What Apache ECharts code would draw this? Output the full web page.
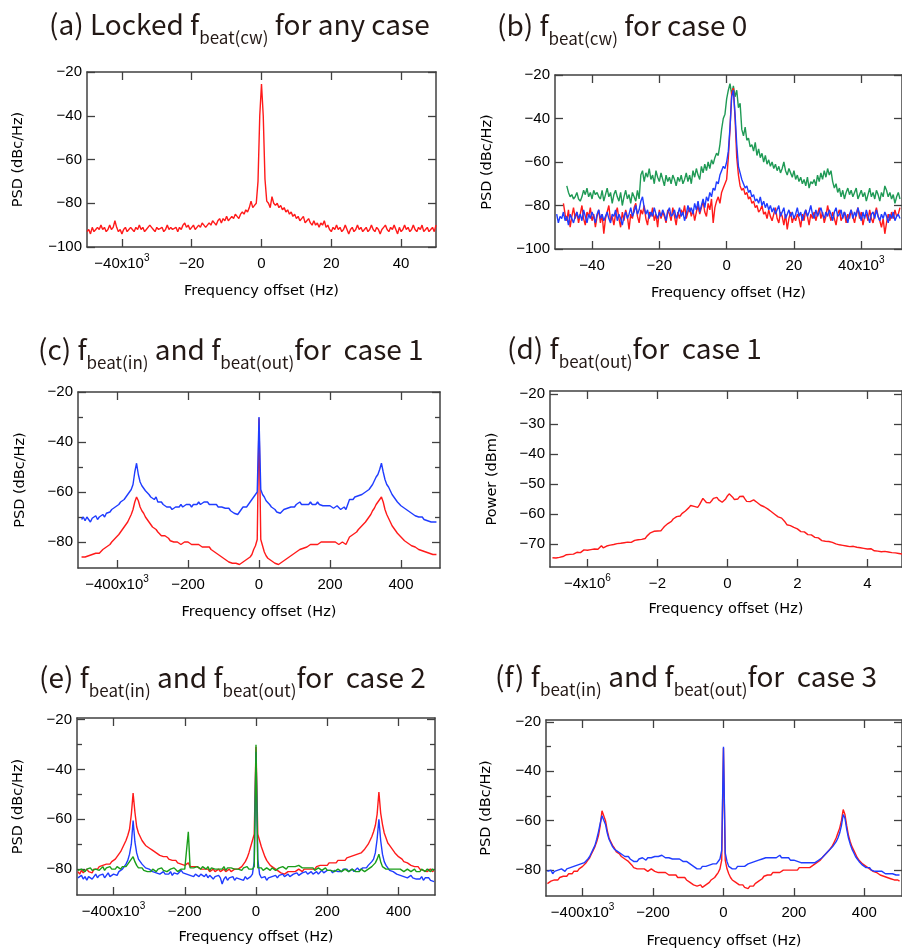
<!DOCTYPE html>
<html>
<head>
<meta charset="utf-8">
<script src="https://cdn.jsdelivr.net/npm/echarts@6/dist/echarts.min.js"></script>
<style>
  html, body { margin: 0; padding: 0; background: #ffffff; }
  #chart { width: 902px; height: 950px; }
</style>
</head>
<body>
<div id="chart"></div>
<script>
// ---------- Spectra (dB values on uniform frequency grids) ----------

// (a) locked f_beat(cw): -50 .. 50 kHz, step 0.5 kHz
const gridA = { start: -50, step: 0.5 };
const psdA = [
  -93,-92,-94,-91,-93,-92,-91,-92,-90,-92,
  -91,-93,-92,-90,-92,-91,-88,-91,-93,-92,
  -94,-92,-91,-93,-92,-91,-92,-93,-91,-92,
  -90,-92,-91,-93,-92,-92,-90,-91,-92,-93,
  -91,-92,-92,-91,-93,-92,-90,-92,-91,-92,
  -92,-91,-93,-91,-92,-90,-89,-91,-90,-92,
  -91,-90,-92,-91,-90,-91,-89,-90,-91,-90,
  -89,-90,-88,-89,-90,-88,-87,-89,-87,-88,
  -86,-88,-87,-86,-87,-85,-86,-87,-85,-84,
  -85,-83,-84,-82,-79,-82,-81,-80,-70,-40,
  -25.5,
  -40,-69,-79,-80,-82,-77,-80,-81,-80,-82,
  -81,-83,-82,-84,-83,-85,-84,-86,-85,-87,
  -86,-88,-87,-86,-89,-88,-87,-89,-90,-88,
  -90,-89,-91,-89,-90,-88,-91,-90,-92,-93,
  -91,-92,-90,-92,-91,-93,-92,-90,-92,-94,
  -92,-91,-93,-92,-90,-92,-91,-93,-92,-91,
  -93,-92,-90,-92,-93,-91,-92,-94,-92,-91,
  -90,-92,-93,-91,-92,-90,-92,-94,-91,-93,
  -92,-90,-92,-91,-93,-92,-90,-92,-93,-91,
  -92,-90,-93,-92,-91,-93,-92,-91,-93,-90
];

// (b) f_beat(cw), case 0: step 0.5 kHz, each trace with its own start
const gridBGreen = { start: -47.5, step: 0.5 };
const psdBGreen = [
  -71,-74,-76,-75,-77,-76,-74,-77,-78,-76,
  -73,-75,-72,-76,-74,-77,-73,-75,-74,-76,
  -77,-73,-78,-75,-72,-76,-74,-79,-75,-73,
  -76,-78,-74,-80,-76,-73,-77,-75,-79,-74,
  -76,-78,-73,-77,-66,-64,-69,-65,-67,-63,
  -68,-66,-70,-64,-67,-69,-65,-68,-71,-66,
  -69,-67,-70,-66,-68,-71,-67,-69,-66,-70,
  -68,-65,-69,-66,-70,-64,-67,-63,-66,-68,
  -62,-65,-61,-64,-60,-63,-59,-61,-58,-56,
  -57,-52,-45,-40,-38,-31,-27,-24,-29,-25,
  -30,-27,-35,-33,-45,-48,-44,-50,-49,-53,
  -52,-55,-51,-57,-54,-58,-56,-60,-57,-61,
  -59,-62,-60,-63,-61,-64,-62,-65,-63,-60,
  -64,-66,-63,-65,-67,-64,-68,-66,-69,-67,
  -70,-68,-71,-67,-72,-69,-70,-68,-71,-66,
  -69,-65,-68,-64,-67,-63,-66,-64,-69,-72,
  -70,-74,-72,-76,-73,-77,-74,-72,-75,-73,
  -76,-74,-72,-77,-75,-73,-76,-74,-78,-75,
  -72,-76,-74,-77,-73,-75,-78,-74,-76,-71,
  -73,-76,-74,-77,-75,-79,-76,-74,-77
];
const gridBRed = { start: -48.5, step: 0.5 };
const psdBRed = [
  -79,-84,-87,-82,-90,-85,-81,-86,-83,-88,
  -84,-80,-86,-89,-83,-85,-81,-87,-84,-90,
  -85,-82,-88,-84,-93,-86,-83,-80,-87,-85,
  -89,-84,-81,-86,-90,-83,-87,-82,-85,-91,
  -84,-86,-81,-79,-85,-88,-82,-84,-80,-86,
  -89,-83,-85,-81,-87,-84,-90,-82,-86,-83,
  -85,-88,-82,-84,-87,-81,-85,-89,-83,-86,
  -82,-84,-80,-86,-83,-81,-85,-82,-87,-83,
  -80,-84,-81,-78,-83,-85,-79,-82,-77,-88,
  -81,-78,-76,-79,-74,-72,-70,-68,-58,-45,
  -28,-26,-40,-58,-66,-71,-73,-72,-75,-74,
  -77,-76,-79,-78,-81,-80,-83,-82,-80,-84,
  -83,-86,-82,-85,-87,-84,-81,-86,-88,-83,
  -85,-89,-84,-91,-86,-83,-88,-85,-87,-84,
  -86,-90,-84,-87,-82,-85,-89,-84,-86,-83,
  -87,-84,-81,-86,-83,-88,-85,-80,-84,-87,
  -83,-86,-89,-84,-82,-87,-85,-83,-88,-84,
  -86,-82,-85,-88,-84,-81,-86,-83,-89,-85,
  -84,-87,-82,-86,-88,-84,-81,-85,-87,-90,
  -86,-93,-88,-84,-87,-83,-86,-82,-85,-84,
  -81
];
const gridBBlue = { start: -50.5, step: 0.5 };
const psdBBlue = [
  -84,-88,-85,-86,-83,-87,-85,-89,-84,-86,
  -88,-85,-83,-86,-84,-87,-82,-85,-88,-84,
  -86,-83,-85,-88,-84,-82,-86,-84,-87,-85,
  -83,-86,-88,-84,-85,-82,-87,-84,-86,-89,
  -85,-83,-86,-84,-81,-85,-83,-80,-84,-82,
  -78,-76,-81,-84,-82,-86,-83,-85,-81,-84,
  -86,-83,-85,-82,-84,-87,-83,-81,-85,-84,
  -82,-86,-84,-81,-85,-83,-87,-84,-80,-83,
  -81,-84,-79,-82,-78,-83,-80,-77,-81,-76,
  -78,-74,-76,-72,-73,-69,-70,-66,-64,-62,
  -63,-60,-55,-44,-30,-27,-38,-52,-62,-65,
  -68,-70,-72,-71,-74,-73,-76,-75,-78,-77,
  -79,-76,-80,-78,-81,-79,-82,-80,-83,-81,
  -84,-82,-80,-85,-83,-81,-86,-84,-82,-85,
  -83,-86,-84,-81,-85,-83,-87,-84,-82,-85,
  -83,-80,-84,-86,-82,-85,-83,-81,-84,-86,
  -83,-85,-82,-84,-87,-83,-81,-85,-84,-82,
  -86,-83,-85,-88,-84,-82,-86,-83,-85,-81,
  -84,-87,-83,-86,-82,-85,-88,-84,-83,-86,
  -82,-85,-87,-84,-86,-83,-85,-88,-84,-86,
  -83,-87,-85,-84,-86
];

// (c) f_beat(in) / f_beat(out), case 1: -500 .. 500 kHz, step 5 kHz
const gridC = { start: -500, step: 5 };
const psdCBlue = [
  -71,-70,-71.5,-70,-71,-72,-70.5,-71,-69.5,-71,
  -70,-70.5,-69,-70,-68.5,-69,-68,-67,-67.5,-66,
  -65.5,-65,-64,-64.5,-63,-62,-61.5,-60,-59,-57,
  -52,-48.5,-53,-56,-57.5,-58,-59.5,-60,-61,-62,
  -62.5,-63,-62,-64,-63.5,-64,-65,-64.5,-66,-65.5,
  -66,-67,-66.5,-66,-65.5,-66,-65,-66,-65.5,-65,
  -65.5,-65,-66,-65,-64.5,-65,-64,-65,-64.5,-64,
  -64.5,-64,-65,-64.5,-65,-65.5,-65,-66,-65.5,-66,
  -66,-66.5,-67,-66.5,-67.5,-68,-68.5,-68,-69,-68,
  -67,-66,-66.5,-66,-65,-64.5,-63,-62,-61.5,-60,
  -30,
  -59,-61,-62,-63.5,-64,-65,-66,-66.5,-67,-68,
  -67.5,-68.5,-68,-67,-67.5,-66.5,-67,-66,-66.5,-66,
  -65,-64.5,-64,-65,-64.5,-65,-64.5,-65,-64,-65,
  -64.5,-65,-64,-65,-64.5,-65.5,-65,-65.5,-66,-65.5,
  -66,-66.5,-66,-65.5,-66,-67,-66.5,-66,-67,-66.5,
  -63,-62.5,-63,-62,-62.5,-61.5,-62,-61,-60.5,-60,
  -59.5,-59,-58,-57,-55.5,-54,-53,-51,-48.5,-52,
  -55,-57,-58,-59.5,-61,-62,-62.5,-64,-64.5,-65.5,
  -66,-66.5,-67,-67.5,-68,-68.5,-69,-69.5,-69,-70,
  -70.5,-70,-71,-70.5,-71.5,-71,-72,-71.5,-72,-72
];
const psdCRed = [
  -86,-86.5,-86,-86.5,-85.5,-86,-85,-85.5,-84.5,-85,
  -84.5,-84,-83,-83.5,-82,-81.5,-81,-80,-79.5,-78.5,
  -78,-77,-76.5,-75,-74,-73,-72,-70.5,-69,-67,
  -64,-62,-63.5,-66,-67.5,-68.5,-70,-71,-72,-73,
  -74,-74.5,-75,-76,-76.5,-77.5,-77,-77.5,-78,-78.5,
  -79.5,-79.5,-80,-80.5,-80,-80.5,-81,-80.5,-80,-80.5,
  -80,-80.5,-81,-80.5,-81,-81.5,-81,-81.5,-82,-81.5,
  -82,-82.5,-82,-83,-83.5,-84,-84.5,-85,-85.5,-86,
  -86.5,-87,-87.5,-88,-88,-88.5,-89,-88.5,-89,-89,
  -88.5,-88,-87.5,-87,-86.5,-86,-85,-83,-81.5,-79,
  -30.5,
  -79,-81.5,-84,-85.5,-86.5,-87,-87.5,-88,-88.5,-88,
  -89,-88.5,-88,-87.5,-87,-86.5,-86,-85.5,-85,-84.5,
  -84,-83.5,-83,-83,-82.5,-82,-82,-81.5,-81,-81.5,
  -81,-80.5,-81,-80.5,-80,-80.5,-80,-80.5,-80,-80.5,
  -80,-80.5,-80,-80.5,-81,-80.5,-80,-80.5,-81,-80.5,
  -78,-77.5,-77,-76.5,-76,-75,-74.5,-73.5,-73,-72,
  -71,-70,-69,-67.5,-66.5,-65,-64,-63,-62,-64,
  -67,-69,-70.5,-72,-73.5,-74.5,-75.5,-76.5,-77,-78,
  -78.5,-79.5,-80,-80.5,-81,-81.5,-82,-82,-82.5,-83,
  -83,-83.5,-83.5,-84,-84,-84.5,-84.5,-85,-85,-85
];

// (d) f_beat(out), case 1: -5 .. 5 MHz, step 0.05 MHz
const gridD = { start: -5, step: 0.05 };
const powerD = [
  -74.6,-74.4,-74.7,-74.3,-74.5,-74.0,-74.2,-73.9,-73.6,-73.8,
  -73.5,-73.2,-73.4,-73.0,-72.8,-72.6,-72.9,-72.3,-72.0,-72.4,
  -72.1,-72.3,-71.9,-72.2,-71.7,-71.4,-71.8,-71.2,-70.6,-71.3,
  -71.0,-70.7,-70.9,-70.4,-70.6,-70.2,-70.5,-69.9,-70.3,-69.8,
  -70.0,-69.6,-69.9,-69.4,-69.1,-69.5,-69.2,-68.8,-69.1,-68.6,
  -68.9,-68.5,-68.7,-68.2,-67.4,-66.8,-66.3,-66.0,-65.8,-65.9,
  -65.7,-65.5,-65.6,-64.9,-64.2,-63.6,-63.2,-62.9,-62.5,-61.7,
  -61.2,-60.9,-60.5,-60.7,-59.9,-59.3,-59.0,-58.6,-57.9,-57.2,
  -56.9,-57.5,-58.1,-57.8,-57.0,-55.9,-54.8,-55.4,-56.2,-56.5,
  -56.3,-55.6,-54.8,-54.2,-54.5,-55.3,-55.9,-56.1,-55.8,-55.0,
  -54.0,-53.3,-53.6,-54.4,-55.2,-55.6,-55.0,-54.2,-53.6,-54.1,
  -55.0,-55.8,-56.1,-55.9,-55.6,-55.3,-55.6,-56.2,-56.8,-57.1,
  -57.3,-57.6,-58.0,-58.3,-58.7,-59.2,-59.6,-60.1,-60.6,-61.0,
  -61.2,-61.4,-61.8,-62.7,-63.6,-63.4,-63.9,-64.2,-64.5,-64.7,
  -65.0,-65.3,-65.9,-66.2,-66.0,-66.5,-66.9,-67.2,-67.0,-67.5,
  -67.8,-68.2,-68.0,-68.6,-68.9,-68.7,-69.1,-69.4,-69.2,-69.6,
  -69.5,-69.8,-70.0,-69.9,-70.3,-70.1,-70.5,-70.4,-70.7,-70.6,
  -70.9,-71.0,-70.8,-71.2,-71.1,-71.4,-71.3,-71.6,-71.5,-71.8,
  -71.7,-72.0,-71.6,-72.1,-72.3,-71.9,-72.4,-72.2,-72.6,-72.3,
  -72.5,-72.8,-72.7,-73.1,-72.9,-73.3,-73.0,-73.4,-73.2,-73.6,
  -73.4
];

// (e) f_beat(in) / f_beat(out), case 2: -500 .. 500 kHz, step 5 kHz
const gridE = { start: -500, step: 5 };
const psdERed = [
  -81,-82,-80.5,-81.5,-82,-80,-81,-80.5,-81.5,-80,
  -79.5,-80,-79,-79.5,-78.5,-79,-78,-77.5,-78,-77,
  -77,-76,-75.5,-74,-73,-71.5,-70,-68.5,-66.5,-64,
  -58,-49.5,-57,-63,-65.5,-67,-68.5,-69.5,-70.5,-71,
  -71.5,-72,-72.5,-73,-73.5,-74,-74.5,-74,-75,-75.5,
  -75,-76,-75.5,-76.5,-77,-76.5,-77.5,-77,-78,-77.5,
  -78.5,-78,-77.5,-79,-78.5,-79,-79.5,-79,-79.5,-80,
  -79.5,-80,-80.5,-80,-81,-80.5,-80,-81,-80.5,-80,
  -81,-80.5,-80,-81,-80.5,-80,-81,-80.5,-80,-80.5,
  -80,-79.5,-79,-78,-77,-75.5,-73.5,-71,-68.5,-66,
  -31,
  -66,-68.5,-71,-73,-75,-76.5,-77.5,-78.5,-79,-79.5,
  -80,-80.5,-81,-81.5,-81,-82,-81.5,-81,-81.5,-81,
  -80.5,-81,-80.5,-80,-80.5,-81,-80,-80.5,-80,-79.5,
  -80,-79.5,-80,-79,-79.5,-78.5,-79,-78.5,-78,-78.5,
  -77.5,-78,-77.5,-77,-77.5,-76.5,-77,-76.5,-76,-76.5,
  -75.5,-76,-75,-75.5,-74.5,-75,-74,-74.5,-73.5,-73,
  -72,-71,-70,-68.5,-67,-65,-62.5,-58,-49,-57.5,
  -62,-65.5,-67.5,-69.5,-70.5,-71.5,-72.5,-73.5,-74,-75,
  -75.5,-76,-77,-76.5,-77.5,-78,-78.5,-78,-79,-79.5,
  -79,-80,-79.5,-80.5,-80,-81,-80.5,-80,-81,-80.5
];
const psdEBlue = [
  -83.5,-84,-82.5,-84,-83,-84.5,-83,-82.5,-84,-83,
  -82,-83.5,-82.5,-83,-82,-83.5,-82.5,-81.5,-83,-82.5,
  -82,-81.5,-82.5,-81,-80.5,-80,-79,-78,-76.5,-74,
  -70,-60.5,-69,-73.5,-76,-77,-78,-78.5,-79.5,-79,
  -80,-80.5,-81,-80.5,-81.5,-81,-82,-81.5,-81,-82,
  -81.5,-82,-81,-82.5,-81.5,-81,-82,-81.5,-80.5,-81.5,
  -81,-82,-81.5,-82.5,-82,-83,-82,-82.5,-83,-82,
  -82.5,-83,-82,-83.5,-82.5,-83,-84,-83,-83.5,-82.5,
  -83.5,-86,-84,-83,-84.5,-83.5,-84,-83,-84.5,-83.5,
  -83,-84,-83.5,-84.5,-83,-84,-83.5,-83,-82,-77,
  -33,
  -76,-82,-83.5,-84,-83,-84.5,-83.5,-84,-83,-83.5,
  -82.5,-83.5,-82.5,-83,-82,-83,-82.5,-82,-83,-82.5,
  -82,-82.5,-81.5,-82.5,-82,-81.5,-82,-81,-82,-81.5,
  -81,-82,-81.5,-81,-82,-81.5,-80.5,-81.5,-81,-80.5,
  -81,-80.5,-81.5,-80.5,-80,-81,-80.5,-81,-80,-80.5,
  -80,-81,-80.5,-80,-81,-80.5,-79.5,-80.5,-80,-79.5,
  -79,-79.5,-78.5,-78,-77,-76,-73.5,-68,-60,-68.5,
  -74,-77,-78.5,-79.5,-80.5,-80,-81,-81.5,-82,-81.5,
  -82.5,-82,-83,-82.5,-83.5,-83,-82.5,-83.5,-83,-84,
  -83.5,-84,-83,-84.5,-83.5,-84,-83.5,-84.5,-84,-85
];
const psdEGreen = [
  -80.5,-81,-80,-79.5,-81,-80,-80.5,-79.5,-80.5,-81,
  -80,-79.5,-80.5,-80,-79,-80.5,-79.5,-80,-79,-80,
  -79.5,-80,-79,-79.5,-80,-79,-78.5,-79,-78,-77.5,
  -76,-75,-77,-78.5,-79.5,-80,-79.5,-80.5,-80,-81,
  -80.5,-81,-80,-80.5,-81,-80,-80.5,-79.5,-80.5,-80,
  -81,-80.5,-80,-80.5,-79.5,-80,-81,-80.5,-80,-79.5,
  -80,-80.5,-65,-79.5,-80,-79.5,-80,-79,-79.5,-80,
  -79,-79.5,-80,-79,-80.5,-79.5,-79,-80,-79.5,-80,
  -79.5,-80,-79,-80.5,-79.5,-80,-79.5,-79,-80,-79.5,
  -80,-79.5,-80.5,-79.5,-80,-79,-80,-79.5,-80,-79,
  -30,
  -79.5,-80,-79.5,-80.5,-80,-79.5,-80,-80.5,-79.5,-80,
  -80.5,-80,-79.5,-80,-79,-79.5,-80,-79,-79.5,-79,
  -78.5,-79,-79.5,-78.5,-79,-79.5,-80,-79.5,-80,-79.5,
  -80,-79.5,-80.5,-80,-79.5,-80,-80.5,-80,-79.5,-80.5,
  -80,-80.5,-80,-81,-80.5,-80,-80.5,-81,-80.5,-80,
  -80.5,-81,-80.5,-80,-80.5,-81,-80.5,-81,-80,-80.5,
  -81,-80.5,-80,-79.5,-79,-78.5,-77.5,-76,-74,-77,
  -79,-79.5,-80,-80.5,-80,-80.5,-80,-79.5,-80,-80.5,
  -80,-80.5,-81,-80.5,-80,-80.5,-81,-80.5,-80,-81,
  -80.5,-81,-80,-80.5,-81,-80,-80.5,-81,-80,-80.5
];

// (f) f_beat(in) / f_beat(out), case 3: -500 .. 500 kHz, step 5 kHz
const gridF = { start: -500, step: 5 };
const psdFRed = [
  -85.5,-85,-84.5,-85,-84,-83.5,-84,-83,-83.5,-82.5,
  -82,-82.5,-81.5,-81,-81.5,-80.5,-80,-80.5,-79.5,-79,
  -78.5,-78,-77,-76,-75,-73.5,-72,-70.5,-68.5,-66,
  -62,-56,-55.5,-60,-64,-67,-68.5,-70,-71,-72.5,
  -73,-73.5,-74.5,-75,-75.5,-76,-76.5,-77,-78,-79,
  -79,-79.5,-80,-79.5,-80,-79.5,-80,-80.5,-80,-79.5,
  -80,-80.5,-80,-81,-80.5,-81,-81.5,-81,-81.5,-82,
  -81.5,-82,-82.5,-82,-83,-82.5,-83,-83.5,-83,-84,
  -84.5,-85,-85.5,-86,-85.5,-86.5,-87,-86,-87,-86.5,
  -86,-85.5,-85,-84,-84.5,-83,-82,-81,-79.5,-76,
  -30.5,
  -76,-79.5,-81.5,-83,-84,-84.5,-85,-85.5,-86,-86.5,
  -86,-87,-86.5,-87.5,-86.5,-86,-86.5,-85.5,-85,-84.5,
  -84,-83.5,-82.5,-83,-82,-81.5,-82,-81,-81.5,-81,
  -80.5,-81,-80.5,-80,-80.5,-80,-79.5,-80,-79.5,-80,
  -79.5,-80,-79,-79.5,-79,-78.5,-79,-78.5,-79,-78.5,
  -78,-77.5,-77,-76.5,-76,-75,-74.5,-73.5,-73,-72,
  -71,-70,-68.5,-67,-65,-63,-60,-55.5,-57.5,-62,
  -66,-68.5,-70.5,-72,-73.5,-75,-76,-76.5,-77.5,-78,
  -78.5,-79,-79.5,-80,-80.5,-81,-81,-81.5,-82,-82,
  -82.5,-82.5,-83,-83,-83.5,-83.5,-84,-83.5,-84,-84.5
];
const psdFBlue = [
  -80.5,-81,-80,-81.5,-80.5,-81,-80,-80.5,-79.5,-80,
  -80.5,-79.5,-80,-79,-79.5,-78.5,-79,-78,-78.5,-77.5,
  -78,-77,-76.5,-75.5,-74.5,-73,-71.5,-70,-67.5,-64.5,
  -61,-58,-57.5,-61.5,-65,-67.5,-69,-70.5,-71.5,-72,
  -72.5,-73,-73.5,-74,-74.5,-75,-74.5,-75.5,-76,-76.5,
  -76,-76.5,-75.5,-76,-75,-75.5,-76,-75,-75.5,-75,
  -75.5,-74.5,-75,-74.5,-75,-74,-74.5,-75,-74.5,-75,
  -74.5,-75.5,-75,-75.5,-76,-75.5,-76,-76.5,-77,-76.5,
  -77,-77.5,-78,-78.5,-79,-79.5,-79,-79.5,-78.5,-79,
  -78.5,-79,-78,-78.5,-77.5,-78,-77.5,-77,-75.5,-72,
  -30,
  -73,-76.5,-78.5,-79,-79.5,-79,-79.5,-78.5,-79,-78.5,
  -78,-78.5,-78,-77.5,-78,-77,-77.5,-76.5,-77,-76,
  -76.5,-75.5,-76,-75,-75.5,-75,-74.5,-75,-74.5,-75,
  -74.5,-74,-75,-74.5,-75,-75.5,-75,-76,-75.5,-76,
  -76,-76.5,-76,-77,-76.5,-77,-76.5,-77,-77.5,-77,
  -77.5,-77,-76.5,-76,-75.5,-75,-74.5,-73.5,-73,-72,
  -71.5,-70.5,-69.5,-68.5,-67,-65,-62,-57.5,-59,-63.5,
  -67,-69.5,-71.5,-73,-74.5,-75.5,-76.5,-77,-78,-78.5,
  -79,-79.5,-79,-80,-79.5,-80.5,-80,-80.5,-81,-80.5,
  -81,-81.5,-81,-81.5,-82,-81.5,-81,-82,-81.5,-82
];

// ---------- Tick values ----------
const ticksXA = [-40, -20, 0, 20, 40];
const ticksXB = [-40, -20, 0, 20, 40];
const ticksXkHz = [-400, -200, 0, 200, 400];
const ticksXD = [-4, -2, 0, 2, 4];
const ticksYAB = [-100, -80, -60, -40, -20];
const ticksYMajor = [-80, -60, -40, -20];
const ticksYMinor = [-70, -50, -30];
const ticksYD = [-70, -60, -50, -40, -30, -20];

// ---------- Styling ----------
const RED = '#ff1a1a';
const BLUE = '#1f3cff';
const GREEN_B = '#1f9a55';
const GREEN_E = '#1a9e1a';
const AXIS_COLOR = '#404040';
const INK = '#000000';
const TITLE_INK = '#231815';
const LABEL_FONT = '"Liberation Sans", Arial, sans-serif';
const NAME_FONT = '"DejaVu Sans", "Liberation Sans", sans-serif';
const TITLE_FONT = '"Noto Sans CJK JP", "Noto Sans", sans-serif';

const panels = [
  {
    title: '{m|(a) Locked f}{s|beat(cw)}{m| for any case}', titlePos: [49, 10],
    box: { left: 87, top: 72, width: 349, height: 175 },
    xRange: [-50, 50], yRange: [-100, -20],
    xTicks: ticksXA, xSci: { at: -40, exp: '3' }, yTicks: ticksYAB, yMinor: [],
    yName: 'PSD (dBc/Hz)', yGap: 61, xGap: 37,
    traces: [{ grid: gridA, values: psdA, color: RED }]
  },
  {
    title: '{m|(b) f}{s|beat(cw)}{m| for case 0}', titlePos: [497, 11],
    box: { left: 555, top: 75, width: 348, height: 174 },
    xRange: [-51, 52.1], yRange: [-100, -20],
    xTicks: ticksXB, xSci: { at: 40, exp: '3' }, yTicks: ticksYAB, yMinor: [],
    yName: 'PSD (dBc/Hz)', yGap: 60, xGap: 37,
    traces: [
      { grid: gridBGreen, values: psdBGreen, color: GREEN_B },
      { grid: gridBRed, values: psdBRed, color: RED },
      { grid: gridBBlue, values: psdBBlue, color: BLUE }
    ]
  },
  {
    title: '{m|(c) f}{s|beat(in)}{m| and f}{s|beat(out)}{m|for  case 1}', titlePos: [38, 335],
    box: { left: 78, top: 392, width: 362, height: 176 },
    xRange: [-510, 510], yRange: [-90.4, -20],
    xTicks: ticksXkHz, xSci: { at: -400, exp: '3' }, yTicks: ticksYMajor, yMinor: ticksYMinor,
    yName: 'PSD (dBc/Hz)', yGap: 50, xGap: 37,
    traces: [
      { grid: gridC, values: psdCRed, color: RED },
      { grid: gridC, values: psdCBlue, color: BLUE }
    ]
  },
  {
    title: '{m|(d) f}{s|beat(out)}{m|for  case 1}', titlePos: [507, 334],
    box: { left: 550, top: 391, width: 357, height: 176 },
    xRange: [-5.07, 4.99], yRange: [-77.7, -19],
    xTicks: ticksXD, xSci: { at: -4, exp: '6' }, yTicks: ticksYD, yMinor: [],
    yName: 'Power (dBm)', yGap: 50, xGap: 35,
    traces: [{ grid: gridD, values: powerD, color: RED }]
  },
  {
    title: '{m|(e) f}{s|beat(in)}{m| and f}{s|beat(out)}{m|for  case 2}', titlePos: [39, 663],
    box: { left: 77, top: 718, width: 358, height: 177 },
    xRange: [-502.5, 502.5], yRange: [-90.4, -19.3],
    xTicks: ticksXkHz, xSci: { at: -400, exp: '3' }, yTicks: ticksYMajor, yMinor: ticksYMinor,
    yName: 'PSD (dBc/Hz)', yGap: 51, xGap: 35,
    traces: [
      { grid: gridE, values: psdERed, color: RED },
      { grid: gridE, values: psdEBlue, color: BLUE },
      { grid: gridE, values: psdEGreen, color: GREEN_E }
    ]
  },
  {
    title: '{m|(f) f}{s|beat(in)}{m| and f}{s|beat(out)}{m|for  case 3}', titlePos: [495, 662],
    box: { left: 546, top: 720, width: 359, height: 177 },
    xRange: [-504, 507], yRange: [-90.5, -19.2],
    xTicks: ticksXkHz, xSci: { at: -400, exp: '3' }, yTicks: ticksYMajor, yMinor: ticksYMinor,
    yName: 'PSD (dBc/Hz)', yGap: 52, xGap: 38,
    traces: [
      { grid: gridF, values: psdFRed, color: RED },
      { grid: gridF, values: psdFBlue, color: BLUE }
    ]
  }
];

// ---------- Option assembly ----------
function signed(v) {
  return v < 0 ? '\u2212' + Math.abs(v) : String(v);
}

const lineStyle = { color: AXIS_COLOR, width: 1.5 };
const tickStyle = { color: AXIS_COLOR, width: 1.3 };
const labelRich = {
  n: { fontSize: 15, fontFamily: LABEL_FONT, color: INK, lineHeight: 18, verticalAlign: 'bottom' },
  e: { fontSize: 10, fontFamily: LABEL_FONT, color: INK, lineHeight: 8, verticalAlign: 'top' }
};
const titleRich = {
  m: { fontSize: 28, fontWeight: 'normal', fontFamily: TITLE_FONT, color: TITLE_INK, verticalAlign: 'top' },
  s: { fontSize: 17, fontWeight: 'normal', fontFamily: TITLE_FONT, color: TITLE_INK, verticalAlign: 'top',
       padding: [19, 0, 0, 0] }
};
const nameStyle = { fontSize: 14.5, fontFamily: NAME_FONT, color: INK };

const option = {
  animation: false,
  backgroundColor: '#ffffff',
  title: [], grid: [], xAxis: [], yAxis: [], series: []
};

panels.forEach((p, gi) => {
  option.title.push({
    text: p.title, left: p.titlePos[0], top: p.titlePos[1], padding: 0,
    textStyle: { fontWeight: 'normal', rich: titleRich }
  });
  option.grid.push(Object.assign({ containLabel: false }, p.box));

  const xMain = option.xAxis.length;
  option.xAxis.push({
    gridIndex: gi, type: 'value', position: 'bottom', min: p.xRange[0], max: p.xRange[1],
    axisLine: { show: true, onZero: false, lineStyle },
    axisTick: { show: true, inside: true, length: 8, customValues: p.xTicks, lineStyle: tickStyle },
    axisLabel: {
      show: true, customValues: p.xTicks, margin: 6, rich: labelRich,
      formatter: v => (v === p.xSci.at ? `{n|${signed(v)}x10}{e|${p.xSci.exp}}` : `{n|${signed(v)}}`)
    },
    splitLine: { show: false },
    name: 'Frequency offset (Hz)', nameLocation: 'middle', nameGap: p.xGap,
    nameTextStyle: nameStyle
  });
  option.xAxis.push({
    gridIndex: gi, type: 'value', position: 'top', min: p.xRange[0], max: p.xRange[1],
    axisLine: { show: true, onZero: false, lineStyle },
    axisTick: { show: true, inside: true, length: 8, customValues: p.xTicks, lineStyle: tickStyle },
    axisLabel: { show: false }, splitLine: { show: false }
  });

  const yMain = option.yAxis.length;
  option.yAxis.push({
    gridIndex: gi, type: 'value', position: 'left', min: p.yRange[0], max: p.yRange[1],
    axisLine: { show: true, onZero: false, lineStyle },
    axisTick: { show: true, inside: true, length: 8, customValues: p.yTicks, lineStyle: tickStyle },
    axisLabel: {
      show: true, customValues: p.yTicks, margin: 5,
      fontSize: 15, fontFamily: LABEL_FONT, color: INK, formatter: v => signed(v)
    },
    splitLine: { show: false },
    name: p.yName, nameLocation: 'middle', nameGap: p.yGap,
    nameTextStyle: nameStyle
  });
  option.yAxis.push({
    gridIndex: gi, type: 'value', position: 'right', min: p.yRange[0], max: p.yRange[1],
    axisLine: { show: true, onZero: false, lineStyle },
    axisTick: { show: true, inside: true, length: 8, customValues: p.yTicks, lineStyle: tickStyle },
    axisLabel: { show: false }, splitLine: { show: false }
  });
  if (p.yMinor.length) {
    ['left', 'right'].forEach(side => {
      option.yAxis.push({
        gridIndex: gi, type: 'value', position: side, offset: 0,
        min: p.yRange[0], max: p.yRange[1],
        axisLine: { show: false, onZero: false },
        axisTick: { show: true, inside: true, length: 5, customValues: p.yMinor, lineStyle: tickStyle },
        axisLabel: { show: false }, splitLine: { show: false }
      });
    });
  }

  p.traces.forEach(t => {
    option.series.push({
      type: 'line', xAxisIndex: xMain, yAxisIndex: yMain,
      data: t.values.map((v, i) => [t.grid.start + i * t.grid.step, v]),
      showSymbol: false, symbol: 'none', smooth: false, clip: true,
      lineStyle: { color: t.color, width: 1.4 },
      emphasis: { disabled: true }, silent: true
    });
  });
});

const chart = echarts.init(document.getElementById('chart'), null, { renderer: 'canvas' });
chart.setOption(option);
</script>
</body>
</html>
